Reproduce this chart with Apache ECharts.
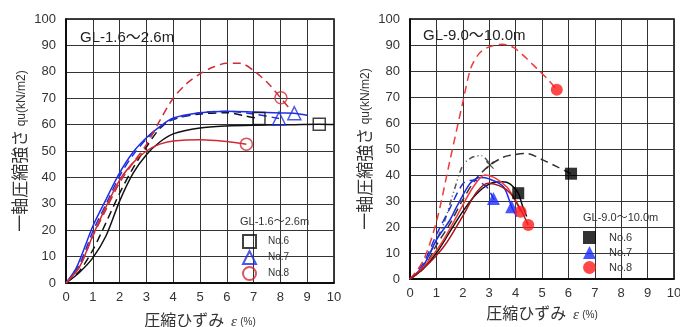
<!DOCTYPE html>
<html>
<head>
<meta charset="utf-8">
<script src="https://cdn.jsdelivr.net/npm/echarts@6/dist/echarts.min.js"></script>
<style>
    html, body { margin: 0; padding: 0; background: #fff; }
    #chart { width: 680px; height: 327px; }
</style>
</head>
<body>
<div id="chart"></div>
<script>
// 軸目盛
var xTicks = [0, 10, 1];      // min, max, interval (ひずみ %)
var yTicks = [0, 100, 10];    // min, max, interval (qu kN/m2)

// GL-1.6～2.6m  [ひずみ, qu]
var left6a = [[0,0],[0.5,4],[1,9.5],[1.5,18],[2,31],[2.5,41.5],[3,48.6],[3.5,53.4],[4,56.5],[5,58.7],[6,59.5],[7,59.8],[8,59.9],[9.45,60.1],[10,60]];
var left6b = [[0,0],[0.5,4.5],[1,12.5],[1.5,23],[2,34],[2.5,43.5],[3,51.5],[3.5,58.5],[4,62],[5,64],[6,64.5],[6.7,63.2],[7.2,62.3]];
var left7a = [[0,0],[0.4,6],[1,21.5],[1.5,31.8],[2,41.7],[2.5,49.5],[3,55],[3.5,59.2],[4,62.5],[5,64.5],[6,65.1],[7,64.8],[8,64.4],[8.5,64.3],[9,63.5]];
var left7b = [[0,0],[0.5,7],[1,19.5],[1.5,30],[2,40.5],[2.5,48.5],[3,54.5],[3.5,59],[4,62],[5,64.5],[6,65],[7,64],[7.95,62.3]];
var left8a = [[0,0],[0.5,6],[1,17.7],[1.5,28],[2,38],[2.5,45.5],[3,52.4],[3.5,61.5],[4,70],[4.5,75.5],[5,79.2],[5.5,81.8],[6,83.2],[6.5,83.2],[7,80.5],[7.6,75],[8,70.2],[8.35,66]];
var left8b = [[0,0],[0.5,6],[1,18],[1.5,29],[2,39],[2.5,45.5],[3,50],[3.5,52.6],[4,53.8],[5,54.3],[5.6,54],[6,53.6],[6.73,52.6]];
// 破壊点
var leftEnd6 = [[9.45,60.1],[7.2,62.3]];
var leftEnd7 = [[8.52,64.3],[7.95,62.3]];
var leftEnd8 = [[8.02,70.2],[6.73,52.6]];

// GL-9.0～10.0m
var right6a = [[0,0],[0.5,4],[1,13],[1.5,21],[2,30.5],[2.5,38.5],[3,43.6],[3.5,46.7],[3.8,47.6],[4.4,48.3],[5.05,45.7],[5.6,43],[6.1,40.5]];
var right6b = [[0,0],[0.5,5],[1,15],[1.27,21],[1.7,35],[2.02,44],[2.4,47],[2.72,47.4],[3.03,44]];
var right6c = [[0,0],[0.5,4],[1,10],[1.5,18],[2,26],[2.5,32.5],[3,36.5],[3.5,37.4],[3.8,36.5],[4.1,33],[4.25,28.5],[4.42,24]];
var right7a = [[0,0],[0.5,5],[1,15],[1.5,22.5],[1.77,27.8],[2.28,36.8],[2.65,39],[3,38.5],[3.54,35.5],[3.85,27.8],[4.04,24]];
var right7b = [[0,0],[0.5,6],[1,17],[1.5,27],[2.02,36.8],[2.4,38],[2.9,35.5],[3.16,31],[3.3,29]];
var right8a = [[0,0],[0.5,7],[1,22],[1.5,45],[2,68],[2.3,81],[2.6,86.5],[2.93,89],[3.5,90.3],[3.93,89],[4.4,85],[4.8,81],[5.2,77],[5.56,72.8]];
var right8b = [[0,0],[0.5,4.5],[1,11],[1.27,15],[1.9,26.5],[2.4,35.5],[2.84,40],[3.2,39],[3.66,35.5],[3.95,31],[4.19,25.9]];
var right8c = [[0,0],[0.5,4],[1,9],[1.39,14],[2.02,24.6],[2.53,33.5],[2.97,36.8],[3.4,35.8],[3.8,33],[4.15,27.5],[4.48,20.8]];
var rightEnd6 = [[4.1,33],[6.1,40.5]];
var rightEnd7 = [[3.85,27.8],[3.16,31]];
var rightEnd8 = [[5.56,72.8],[4.19,25.9],[4.48,20.8]];
var rightCross = [[3.03,43.8]];

var FONT = '"Liberation Sans", "Noto Sans CJK JP", sans-serif';
var BLACK = '#111111', BLUE = '#1f2fe0', RED = '#d02c34', RED2 = '#f03a3a', DARKRED = '#a8141a';
var DASH = [8, 5], DASHDOT = [6, 3, 1, 3, 1, 3];

function lineSeries(name, data, color, type, idx) {
    return {
        name: name, type: 'line', xAxisIndex: idx, yAxisIndex: idx,
        data: data, smooth: 0.3, showSymbol: false, silent: true,
        lineStyle: { color: color, width: 1.5, type: type }
    };
}

function markSeries(name, data, symbol, size, color, hollow, idx) {
    return {
        name: name, type: 'scatter', xAxisIndex: idx, yAxisIndex: idx,
        data: data, symbol: symbol, symbolSize: size, z: 5,
        itemStyle: hollow
            ? { color: 'rgba(255,255,255,0)', borderColor: color, borderWidth: 1.5 }
            : { color: color }
    };
}

function xAxisOf(idx, gap) {
    return {
        type: 'value', gridIndex: idx, min: xTicks[0], max: xTicks[1], interval: xTicks[2],
        axisLine: { lineStyle: { color: '#000', width: 1.5 } },
        axisTick: { show: false },
        axisLabel: { color: '#333', fontSize: 13, fontFamily: FONT, margin: 8 },
        splitLine: { lineStyle: { color: '#333', width: 1 } },
        name: '{a|圧縮ひずみ}  {e|ε} {b|(%)}', nameLocation: 'middle', nameGap: gap,
        nameTextStyle: {
            rich: {
                a: { fontSize: 16, color: '#333', fontFamily: FONT },
                e: { fontSize: 15, color: '#333', fontStyle: 'italic', fontFamily: 'Liberation Serif' },
                b: { fontSize: 10, color: '#333', fontFamily: FONT }
            }
        }
    };
}

function yAxisOf(idx, gap) {
    return {
        type: 'value', gridIndex: idx, min: yTicks[0], max: yTicks[1], interval: yTicks[2],
        axisLine: { lineStyle: { color: '#000', width: 1.5 } },
        axisTick: { show: false },
        axisLabel: { color: '#333', fontSize: 13, fontFamily: FONT, margin: 10 },
        splitLine: { lineStyle: { color: '#333', width: 1 } },
        name: '{a|一軸圧縮強さ} {b|qu(kN/m2)}', nameLocation: 'middle', nameGap: gap, nameRotate: 90,
        nameTextStyle: {
            rich: {
                a: { fontSize: 17, color: '#333', fontFamily: FONT },
                b: { fontSize: 12, color: '#333', fontFamily: FONT }
            }
        }
    };
}

function legendOf(names, left, top, gap, size, pad) {
    return {
        data: names, orient: 'vertical', left: left, top: top, padding: 0,
        itemWidth: 13, itemHeight: 13, itemGap: gap, selectedMode: false,
        formatter: function (n) { return n.split('-')[1]; },
        textStyle: { fontSize: size, color: '#333', fontFamily: FONT, padding: [0, 0, 0, pad] }
    };
}

var chart = echarts.init(document.getElementById('chart'));

var series = [
    lineSeries('L6a', left6a, BLACK, 'solid', 0),
    lineSeries('L6b', left6b, BLACK, DASH, 0),
    lineSeries('L7a', left7a, BLUE, 'solid', 0),
    lineSeries('L7b', left7b, BLUE, DASH, 0),
    lineSeries('L8a', left8a, RED, DASH, 0),
    lineSeries('L8b', left8b, RED, 'solid', 0),
    markSeries('a-No.6', leftEnd6, 'rect', 12, BLACK, true, 0),
    markSeries('a-No.7', leftEnd7, 'triangle', 13, BLUE, true, 0),
    markSeries('a-No.8', leftEnd8, 'circle', 12, RED, true, 0),

    lineSeries('R6a', right6a, '#333', DASH, 1),
    lineSeries('R6b', right6b, '#555', DASHDOT, 1),
    lineSeries('R6c', right6c, BLACK, 'solid', 1),
    lineSeries('R7a', right7a, BLUE, 'solid', 1),
    lineSeries('R7b', right7b, BLUE, DASH, 1),
    lineSeries('R8a', right8a, RED2, DASH, 1),
    lineSeries('R8b', right8b, RED2, 'solid', 1),
    lineSeries('R8c', right8c, DARKRED, 'solid', 1),
    markSeries('b-No.6', rightEnd6, 'rect', 12, '#000', false, 1),
    markSeries('b-No.7', rightEnd7, 'triangle', 13, '#1a2cff', false, 1),
    markSeries('b-No.8', rightEnd8, 'circle', 12, '#ff1a1a', false, 1),
    markSeries('cross', rightCross, 'path://M1,0L5,4L9,0L10,1L6,5L10,9L9,10L5,6L1,10L0,9L4,5L0,1Z', 8, '#222', false, 1)
];

var option = {
    animation: false,
    backgroundColor: '#fff',
    title: [
        { text: 'GL-1.6～2.6m', left: 75, top: 25, textStyle: { fontSize: 15, fontWeight: 'normal', color: '#222', fontFamily: FONT } },
        { text: 'GL-9.0～10.0m', left: 418, top: 23, textStyle: { fontSize: 15, fontWeight: 'normal', color: '#222', fontFamily: FONT } },
        { text: 'GL-1.6～2.6m', left: 240, top: 216, padding: 0, textStyle: { fontSize: 11, fontWeight: 'normal', color: '#333', fontFamily: FONT } },
        { text: 'GL-9.0～10.0m', left: 583, top: 212, padding: 0, textStyle: { fontSize: 11, fontWeight: 'normal', color: '#333', fontFamily: FONT } }
    ],
    legend: [
        legendOf(['a-No.6', 'a-No.7', 'a-No.8'], 242, 234, 1, 10, 7),
        legendOf(['b-No.6', 'b-No.7', 'b-No.8'], 583, 231, 2, 11, 8)
    ],
    grid: [
        { left: 66, top: 19, width: 268, height: 264, show: true, borderColor: '#000', borderWidth: 1.5, outerBoundsMode: 'none' },
        { left: 410, top: 19, width: 264, height: 260, show: true, borderColor: '#000', borderWidth: 1.5, outerBoundsMode: 'none' }
    ],
    xAxis: [xAxisOf(0, 31), xAxisOf(1, 28)],
    yAxis: [yAxisOf(0, 36), yAxisOf(1, 34)],
    series: series
};

chart.setOption(option);
</script>
</body>
</html>
